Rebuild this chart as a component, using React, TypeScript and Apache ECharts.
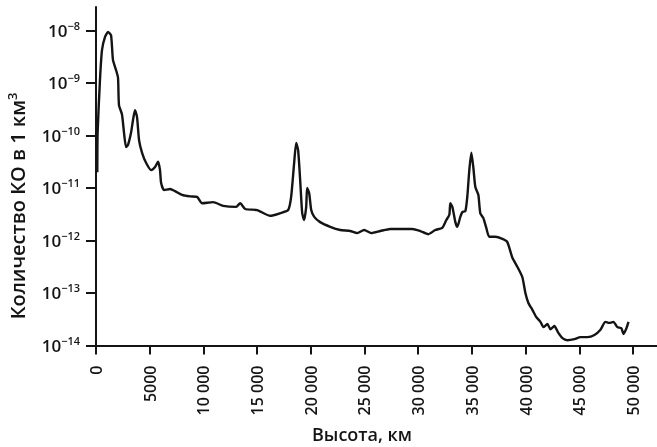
import React, { useEffect, useRef } from "react";
import * as echarts from "echarts";

// Altitude, km
const altitudeKm = [
  120, 150, 370, 560, 840, 1120, 1400, 1580, 1860, 2050,
  2140, 2420, 2610, 2800, 2980, 3260, 3450, 3630, 3820, 4010,
  4290, 4660, 5130, 5500, 5780, 5960, 6060, 6340, 6900, 7360,
  8010, 8760, 9410, 9880, 10900, 11840, 13050, 13420, 13890, 15000,
  16220, 17150, 17890, 18170, 18450, 18640, 18820, 19010, 19200, 19380,
  19570, 19660, 19850, 20040, 20320, 20870, 21810, 22740, 23670, 24320,
  24970, 25630, 26470, 27400, 28330, 29450, 30190, 30940, 31590, 32240,
  32620, 32900, 32990, 33180, 33460, 33640, 33920, 34110, 34390, 34570,
  34760, 34950, 35130, 35320, 35600, 35780, 36060, 36340, 36620, 37180,
  37840, 38300, 38770, 39230, 39700, 39980, 40260, 40630, 41000, 41380,
  41660, 42030, 42310, 42680, 43050, 43430, 43890, 44550, 45100, 45760,
  46410, 46970, 47430, 47810, 48180, 48550, 48920, 49110, 49390, 49580,
];

// Object density per km^3, stored as log10 of the value
const densityLog10 = [
  -10.70, -9.95, -8.94, -8.37, -8.12, -8.03, -8.09, -8.56, -8.75, -8.90,
  -9.42, -9.60, -9.95, -10.22, -10.18, -9.95, -9.70, -9.52, -9.65, -10.09,
  -10.33, -10.52, -10.66, -10.60, -10.50, -10.66, -10.90, -11.04, -11.02, -11.06,
  -11.13, -11.16, -11.17, -11.29, -11.27, -11.34, -11.36, -11.29, -11.40, -11.42,
  -11.53, -11.48, -11.42, -11.17, -10.52, -10.14, -10.28, -10.85, -11.48, -11.61,
  -11.36, -11.00, -11.10, -11.42, -11.55, -11.65, -11.74, -11.80, -11.82, -11.86,
  -11.80, -11.86, -11.82, -11.78, -11.78, -11.78, -11.82, -11.88, -11.80, -11.76,
  -11.61, -11.51, -11.29, -11.36, -11.65, -11.74, -11.55, -11.46, -11.44, -11.17,
  -10.66, -10.33, -10.60, -10.98, -11.13, -11.48, -11.57, -11.76, -11.93, -11.93,
  -11.97, -12.03, -12.33, -12.50, -12.70, -13.00, -13.19, -13.32, -13.46, -13.55,
  -13.65, -13.59, -13.69, -13.63, -13.76, -13.86, -13.90, -13.88, -13.84, -13.84,
  -13.80, -13.70, -13.55, -13.57, -13.55, -13.65, -13.67, -13.78, -13.67, -13.55,
];

const xTicks = [0, 5000, 10000, 15000, 20000, 25000, 30000, 35000, 40000, 45000, 50000];
const yTickExponents = [-14, -13, -12, -11, -10, -9, -8];

const xTitle = "Высота, км";
const yTitle = "Количество КО в 1 км";
const yTitleSup = "3";

export default function App() {
  const ref = useRef<HTMLDivElement>(null);
  useEffect(() => {
    const chart = echarts.init(ref.current!, null, { renderer: "svg" });
    const data = altitudeKm.map((x, i) => [x, Math.pow(10, densityLog10[i])]);
    const yTicks = yTickExponents.map((e) => Math.pow(10, e));
    const font = "'Open Sans', 'DejaVu Sans', sans-serif";
    const ink = "#141414";
    const fmtX = (v: number) =>
      v >= 10000 ? String(v).replace(/(\d)(?=(\d{3})+$)/g, "$1 ") : String(v);
    chart.setOption({
      animation: false,
      grid: { left: 96, right: 0, top: 7, bottom: 101.5, containLabel: false },
      xAxis: {
        type: "value",
        min: 0,
        max: 52235,
        interval: 5000,
        axisLine: { lineStyle: { color: ink, width: 2 } },
        axisTick: { length: 9, lineStyle: { color: ink, width: 2 }, customValues: xTicks },
        axisLabel: {
          customValues: xTicks,
          rotate: 90,
          margin: 20,
          fontSize: 16,
          fontWeight: 600,
          fontFamily: font,
          color: ink,
          formatter: (v: number) => fmtX(v),
        },
        splitLine: { show: false },
      },
      yAxis: {
        type: "log",
        logBase: 10,
        min: 1e-14,
        max: 2.8e-8,
        axisLine: { show: true, lineStyle: { color: ink, width: 2 } },
        axisTick: { show: true, length: 10, lineStyle: { color: ink, width: 2 }, customValues: yTicks },
        axisLabel: {
          customValues: yTicks,
          margin: 16,
          formatter: (v: number) => `{b|10}{s|−${-Math.round(Math.log10(v))}}`,
          rich: {
            b: { fontSize: 17, fontWeight: 600, fontFamily: font, color: ink },
            s: { fontSize: 11, fontWeight: 600, fontFamily: font, color: ink, verticalAlign: "top", padding: [0, 0, 10, 0] },
          },
        },
        splitLine: { show: false },
        minorTick: { show: false },
      },
      series: [
        {
          type: "line",
          data,
          showSymbol: false,
          smooth: 0.2,
          lineStyle: { color: ink, width: 2.4 },
        },
      ],
      graphic: [
        {
          type: "text",
          x: 362,
          y: 434,
          style: {
            text: xTitle,
            font: `600 18px ${font}`,
            fill: ink,
            align: "center",
            verticalAlign: "middle",
          },
        },
        {
          type: "text",
          x: 17,
          y: 206,
          rotation: Math.PI / 2,
          style: {
            text: `{a|${yTitle}}{s|${yTitleSup}}`,
            rich: {
              a: { fontSize: 20, fontWeight: 600, fontFamily: font, fill: ink, color: ink },
              s: { fontSize: 13, fontWeight: 600, fontFamily: font, fill: ink, color: ink, verticalAlign: "top", padding: [0, 0, 10, 0] },
            },
            align: "center",
            verticalAlign: "middle",
          },
        },
      ],
    });
    return () => chart.dispose();
  }, []);
  return (
    <div
      ref={ref}
      style={{ position: "fixed", left: 0, top: 0, width: 657, height: 447 }}
    />
  );
}
